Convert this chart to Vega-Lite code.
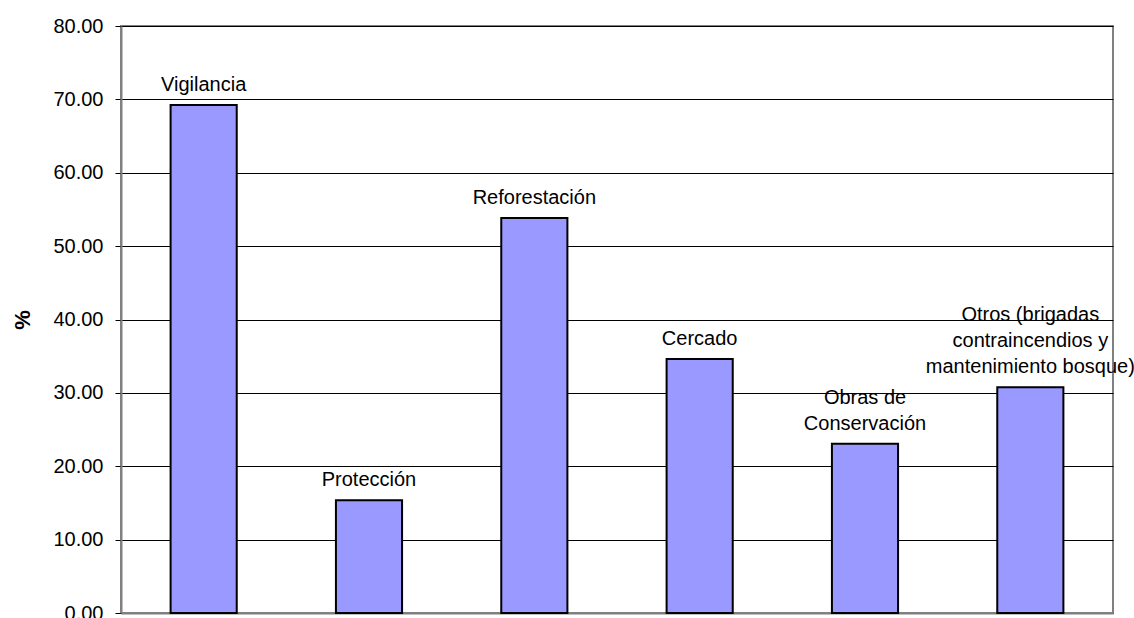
{
  "$schema": "https://vega.github.io/schema/vega-lite/v6.json",
  "width": 992,
  "height": 587,
  "autosize": {"type": "none"},
  "padding": {"left": 121, "top": 26, "right": 21, "bottom": 5},
  "background": "white",
  "config": {
    "font": "Liberation Sans",
    "view": {"stroke": "#808080", "strokeWidth": 2}
  },
  "data": {
    "values": [
      {"cat": "Vigilancia", "pct": 69.23, "label": "Vigilancia"},
      {"cat": "Protección", "pct": 15.38, "label": "Protección"},
      {"cat": "Reforestación", "pct": 53.85, "label": "Reforestación"},
      {"cat": "Cercado", "pct": 34.62, "label": "Cercado"},
      {"cat": "Obras de Conservación", "pct": 23.08, "label": "Obras de\nConservación"},
      {"cat": "Otros", "pct": 30.77, "label": "Otros (brigadas\ncontraincendios y\nmantenimiento bosque)"}
    ]
  },
  "encoding": {
    "x": {
      "field": "cat",
      "type": "nominal",
      "sort": null,
      "scale": {"paddingInner": 0.6, "paddingOuter": 0.3},
      "axis": {"labels": false, "ticks": false, "title": null, "domainColor": "#808080", "domainWidth": 2}
    },
    "y": {
      "field": "pct",
      "type": "quantitative",
      "scale": {"domain": [0, 80]},
      "axis": {
        "title": "%",
        "titleFontSize": 22,
        "titleFontWeight": "bold",
        "titleColor": "black",
        "titlePadding": 18,
        "values": [0, 10, 20, 30, 40, 50, 60, 70, 80],
        "format": ".2f",
        "labelFontSize": 20,
        "labelColor": "black",
        "labelPadding": 12,
        "tickSize": 6,
        "tickColor": "black",
        "domainColor": "#808080",
        "domainWidth": 2,
        "grid": true,
        "gridColor": "black",
        "gridWidth": 1,
        "gridOpacity": 1
      }
    }
  },
  "layer": [
    {
      "mark": {"type": "bar", "fill": "#9999FF", "stroke": "black", "strokeWidth": 2}
    },
    {
      "transform": [{"filter": "datum.cat !== 'Obras de Conservación' && datum.cat !== 'Otros'"}],
      "mark": {"type": "text", "baseline": "bottom", "dy": -10, "fontSize": 20, "lineBreak": "\n", "lineHeight": 26, "color": "black"},
      "encoding": {"text": {"field": "label"}}
    },
    {
      "transform": [{"filter": "datum.cat === 'Obras de Conservación'"}],
      "mark": {"type": "text", "baseline": "bottom", "dy": -36, "fontSize": 20, "lineBreak": "\n", "lineHeight": 26, "color": "black"},
      "encoding": {"text": {"field": "label"}}
    },
    {
      "transform": [{"filter": "datum.cat === 'Otros'"}],
      "mark": {"type": "text", "baseline": "bottom", "dy": -62, "fontSize": 20, "lineBreak": "\n", "lineHeight": 26, "color": "black"},
      "encoding": {"text": {"field": "label"}}
    }
  ]
}
